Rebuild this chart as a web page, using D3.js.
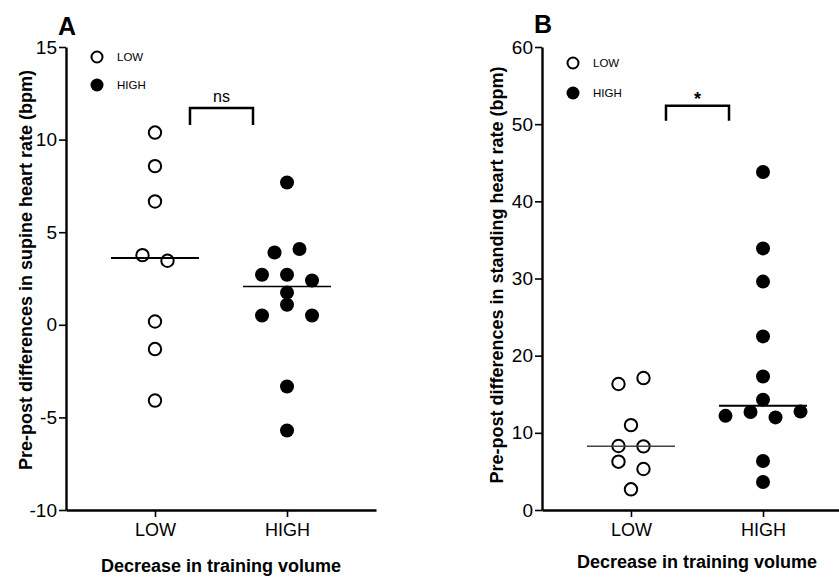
<!DOCTYPE html>
<html>
<head>
<meta charset="utf-8">
<script src="https://cdn.jsdelivr.net/npm/d3@7"></script>
<style>
  body { margin: 0; background: #fff; }
  text { font-family: "Liberation Sans", Arial, sans-serif; fill: #000; }
</style>
</head>
<body>
<svg id="chart" width="839" height="577"></svg>
<script>
// values (bpm), in left-to-right order within a row
var groups = ["LOW", "HIGH"];
var supineLow = [10.38, 8.57, 6.66, 3.76, 3.46, 0.18, -1.31, -4.09];
var supineHigh = [7.68, 3.90, 4.09, 2.70, 2.70, 2.39, 1.74, 0.50, 1.08, 0.50, -3.33, -5.71];
var standingLow = [16.33, 17.1, 11.0, 8.29, 8.25, 6.26, 5.31, 2.68];
var standingHigh = [43.8, 33.9, 29.6, 22.5, 17.3, 14.3, 12.2, 12.7, 12.0, 12.75, 6.35, 3.63];
var supineTicks = [-10, -5, 0, 5, 10, 15];
var standingTicks = [0, 10, 20, 30, 40, 50, 60];

var svg = d3.select("#chart");

var yTop = 47, yBottom = 510, axisW = 310;
var step = 25, rowGap = 11.5;

var panels = [
	{letter: "A", x0: 66, domain: [-10, 15], ticks: supineTicks,
	 low: supineLow, high: supineHigh, sig: "ns", sigBold: false, sigTop: 11.7, sigDrop: 17,
	 ytitle: "Pre-post differences in supine heart rate (bpm)", ytitleX: 26, ytitleY: 270,
	 xtitleY: 572, legY: [57, 85], letterY: 35,
	 medW: [2, 1.5], medC: ["#000", "#000"]},
	{letter: "B", x0: 542, domain: [0, 60], ticks: standingTicks,
	 low: standingLow, high: standingHigh, sig: "*", sigBold: true, sigTop: 52.4, sigDrop: 15,
	 ytitle: "Pre-post differences in standing heart rate (bpm)", ytitleX: 497, ytitleY: 275,
	 xtitleY: 568, legY: [63, 93], letterY: 33,
	 medW: [1.5, 2], medC: ["#444", "#000"]}
];

// group points whose pixel heights chain together into rows, centre each row
function rowOffsets(values, y) {
	var idx = values.map(function(d, i) { return i }).sort(function(a, b) { return y(values[a]) - y(values[b]) });
	var rows = [], cur = [];
	idx.forEach(function(i, k) {
		if (k > 0 && y(values[i]) - y(values[idx[k - 1]]) > rowGap) { rows.push(cur); cur = []; }
		cur.push(i);
	});
	rows.push(cur);
	var off = [];
	rows.forEach(function(r) {
		r.sort(function(a, b) { return a - b });
		r.forEach(function(i, j) { off[i] = (j - (r.length - 1) / 2) * step; });
	});
	return off;
}

panels.forEach(function(p) {

	var y = d3.scaleLinear().domain(p.domain).range([yBottom, yTop]);
	var x = d3.scalePoint().domain(groups).range([p.x0, p.x0 + axisW]).padding(0.674);

	var g = svg.append("g");

	var yAxis = g.append("g")
		.attr("transform", "translate(" + p.x0 + ",0)")
		.call(d3.axisLeft(y).tickValues(p.ticks).tickFormat(function(d) { return String(d) })
			.tickSize(7).tickSizeOuter(0).tickPadding(2));
	yAxis.select(".domain").attr("stroke-width", 2.4);
	yAxis.selectAll(".tick line").attr("stroke-width", 1.6);
	yAxis.selectAll(".tick text").style("font-size", "19px").attr("fill", "#111");

	var xAxis = g.append("g")
		.attr("transform", "translate(0," + yBottom + ")")
		.call(d3.axisBottom(x).tickSize(7).tickSizeOuter(0).tickPadding(6));
	xAxis.select(".domain").attr("stroke-width", 2.4);
	xAxis.selectAll(".tick line").attr("stroke-width", 1.6);
	xAxis.selectAll(".tick text").style("font-size", "18px").attr("fill", "#111");

	g.append("text")
		.attr("transform", "translate(" + p.ytitleX + "," + p.ytitleY + ") rotate(-90)")
		.attr("text-anchor", "middle")
		.attr("dy", "0.35em")
		.style("font-size", "18px")
		.style("font-weight", "bold")
		.text(p.ytitle);

	g.append("text")
		.attr("x", p.x0 + axisW / 2)
		.attr("y", p.xtitleY)
		.attr("text-anchor", "middle")
		.style("font-size", "18px")
		.style("font-weight", "bold")
		.text("Decrease in training volume");

	g.append("text")
		.attr("x", p.x0 - 8)
		.attr("y", p.letterY)
		.style("font-size", "25px")
		.style("font-weight", "bold")
		.text(p.letter);

	// points
	[p.low, p.high].forEach(function(vals, gi) {
		var off = rowOffsets(vals, y);
		var cx = x(groups[gi]);
		g.append("g").selectAll("circle")
			.data(vals)
			.enter().append("circle")
			.attr("cx", function(d, i) { return cx + off[i] })
			.attr("cy", function(d) { return y(d) })
			.attr("r", gi == 0 ? 6.2 : 7)
			.attr("fill", gi == 0 ? "#fff" : "#000")
			.attr("stroke", gi == 0 ? "#000" : "none")
			.attr("stroke-width", 2);

		g.append("line")
			.attr("x1", cx - 44).attr("x2", cx + 44)
			.attr("y1", y(d3.median(vals))).attr("y2", y(d3.median(vals)))
			.attr("stroke", p.medC[gi])
			.attr("stroke-width", p.medW[gi]);
	});

	// significance bracket
	var bx1 = x("LOW") + 35, bx2 = x("HIGH") - 34, by = y(p.sigTop);
	g.append("path")
		.attr("d", "M" + bx1 + "," + (by + p.sigDrop) + "V" + by + "H" + bx2 + "V" + (by + p.sigDrop))
		.attr("fill", "none")
		.attr("stroke", "#000")
		.attr("stroke-width", 2.5);
	g.append("text")
		.attr("x", (bx1 + bx2) / 2)
		.attr("y", p.sigBold ? by - 1 : by - 6)
		.attr("text-anchor", "middle")
		.style("font-size", p.sigBold ? "18px" : "16px")
		.style("font-weight", p.sigBold ? "bold" : "normal")
		.text(p.sig);

	// legend
	var lx = p.x0 + 31;
	g.append("circle").attr("cx", lx).attr("cy", p.legY[0]).attr("r", 5.5)
		.attr("fill", "#fff").attr("stroke", "#000").attr("stroke-width", 2);
	g.append("circle").attr("cx", lx).attr("cy", p.legY[1]).attr("r", 6.5).attr("fill", "#000");
	g.selectAll(".leg").data(groups).enter().append("text")
		.attr("x", lx + 20)
		.attr("y", function(d, i) { return p.legY[i] })
		.attr("dy", "0.35em")
		.style("font-size", "11.5px")
		.text(function(d) { return d });
});
</script>
</body>
</html>
